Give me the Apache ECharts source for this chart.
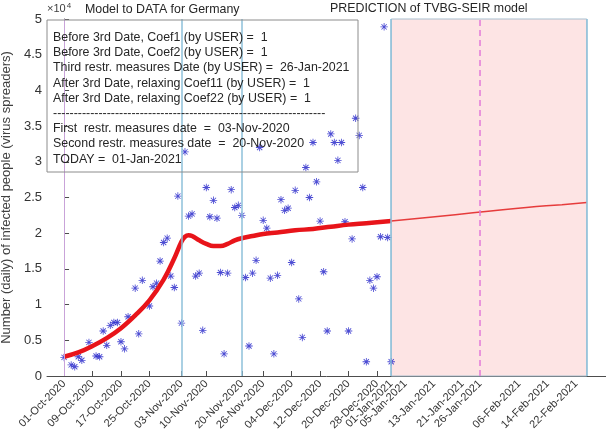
<!DOCTYPE html>
<html>
<head>
<meta charset="utf-8">
<script src="https://cdn.jsdelivr.net/npm/echarts@6/dist/echarts.min.js"></script>
<style>
  html, body { margin: 0; padding: 0; background: #fff; }
  #chart { width: 606px; height: 444px; }
</style>
</head>
<body>
<div id="chart"></div>
<script>
// days counted from 01-Oct-2020
const dataDays = [0, 2, 3, 4, 5, 7, 9, 10, 11, 12, 13, 14, 15, 16, 17, 18, 20, 21, 22, 24,
  25, 26, 27, 28, 29, 30, 31, 32, 33, 34, 35, 36, 37, 38, 39, 40, 41, 42, 43, 44,
  45, 46, 47, 48, 49, 50, 51, 52, 53, 54, 55, 56, 57, 58, 59, 60, 61, 62, 63, 64,
  65, 66, 67, 68, 69, 70, 71, 72, 73, 74, 75, 76, 77, 78, 79, 80, 81, 82, 83, 84,
  85, 86, 87, 88, 89, 90, 91, 92];
const dataCases = [2600, 1550, 1300, 2700, 2200, 4700, 2800, 2700, 6300, 4300, 7100, 7500, 7500, 4800, 3800, 8300, 12300, 5900, 13400, 9800,
  12500, 13000, 16100, 18700, 19300, 14000, 12400, 25200, 7400, 31400, 22400, 22700, 14000, 14400, 6400, 26400, 22300, 24600, 22100, 14500,
  3100, 14400, 26100, 23600, 23900, 22500, 13800, 4200, 14400, 16200, 32000, 21800, 20700, 13700, 3100, 14100, 24700, 23200, 23500, 15900,
  26000, 10800, 5400, 29200, 25000, 32700, 27200, 21700, 14600, 6300, 33900, 32700, 30200, 32700, 21600, 6300, 19200, 36100, 33700, 26400,
  2000, 13400, 12300, 13900, 19500, 48900, 19400, 2000];

const fitDays = [0, 4, 8, 12, 16, 20, 24, 28, 31, 33, 34, 35, 36, 38, 40, 42, 44, 46, 48, 50, 53, 56, 60, 65, 70, 75, 80, 85, 92];
const fitVals = [2700, 3300, 4200, 5300, 6700, 8500, 10600, 13500, 16500, 18800, 19500, 19700, 19600, 19000, 18500, 18200, 18200, 18500, 19000, 19300, 19600, 19900, 20100, 20400, 20600, 20900, 21200, 21400, 21700];

const predDays = [92, 100, 110, 120, 130, 140, 147];
const predVals = [21700, 22100, 22600, 23100, 23600, 24000, 24300];

const tickDays = [0, 8, 16, 24, 33, 40, 50, 56, 64, 72, 80, 88, 92, 96, 104, 112, 117, 128, 136, 144];
const tickLabels = ['01-Oct-2020', '09-Oct-2020', '17-Oct-2020', '25-Oct-2020', '03-Nov-2020', '10-Nov-2020',
  '20-Nov-2020', '26-Nov-2020', '04-Dec-2020', '12-Dec-2020', '20-Dec-2020', '28-Dec-2020', '01-Jan-2021',
  '05-Jan-2021', '13-Jan-2021', '21-Jan-2021', '26-Jan-2021', '06-Feb-2021', '14-Feb-2021', '22-Feb-2021'];

const infoLines = [
  'Before 3rd Date, Coef1 (by USER) =  1',
  'Before 3rd Date, Coef2 (by USER) =  1',
  'Third restr. measures Date (by USER) =  26-Jan-2021',
  'After 3rd Date, relaxing Coef11 (by USER) =  1',
  'After 3rd Date, relaxing Coef22 (by USER) =  1',
  '------------------------------------------------------------------',
  'First  restr. measures date  =  03-Nov-2020',
  'Second restr. measures date  =  20-Nov-2020',
  'TODAY =  01-Jan-2021'
];

const font = '"Liberation Sans", Arial, sans-serif';
const axisColor = '#4d4d4d';
const blueLine = '#8ec0da';

// asterisk marker made from 4 thin bars
const star = 'path://M-0.55,-5 L0.55,-5 L0.55,5 L-0.55,5 Z M-5,-0.55 L5,-0.55 L5,0.55 L-5,0.55 Z ' +
  'M-3.1,-3.9 L3.9,3.1 L3.1,3.9 L-3.9,-3.1 Z M-3.9,3.1 L3.1,-3.9 L3.9,-3.1 L-3.1,3.9 Z';

const labelOf = {};
tickDays.forEach((d, i) => { labelOf[d] = tickLabels[i]; });

const chart = echarts.init(document.getElementById('chart'));

const option = {
  animation: false,
  backgroundColor: '#fff',
  textStyle: { fontFamily: font },
  grid: { left: 47, right: 0, top: 19, bottom: 68, containLabel: false, outerBoundsMode: 'none' },
  xAxis: {
    type: 'value',
    min: -4.8,
    max: 152.4,
    splitLine: { show: false },
    axisLine: { lineStyle: { color: axisColor } },
    axisTick: { inside: true, length: 5, customValues: tickDays, lineStyle: { color: axisColor } },
    axisLabel: {
      customValues: tickDays,
      rotate: 45,
      fontSize: 11,
      color: '#333',
      margin: 6,
      formatter: v => labelOf[Math.round(v)] || ''
    }
  },
  yAxis: {
    type: 'value',
    min: 0,
    max: 50000,
    interval: 5000,
    name: 'Number (daily) of infected people (virus spreaders)',
    nameLocation: 'middle',
    nameGap: 25,
    nameTextStyle: { fontSize: 13, color: '#404040', fontFamily: font },
    splitLine: { show: false },
    axisLine: { show: true, lineStyle: { color: axisColor } },
    axisTick: { inside: true, length: 5, lineStyle: { color: axisColor } },
    axisLabel: {
      fontSize: 13,
      color: '#333',
      margin: 5,
      formatter: v => String(v / 10000)
    }
  },
  graphic: [
    {
      type: 'text', left: 47, top: 2,
      style: {
        text: '{a|×10}{b|4}',
        rich: {
          a: { fontSize: 11, fill: '#404040', fontFamily: font },
          b: { fontSize: 8, fill: '#404040', fontFamily: font, verticalAlign: 'top', padding: [0, 0, 6, 1] }
        }
      }
    },
    {
      type: 'text', left: 85, top: 4,
      style: { text: 'Model to DATA for Germany', fontSize: 12.4, fill: '#262626', fontFamily: font }
    },
    {
      type: 'text', left: 330, top: 3,
      style: { text: 'PREDICTION of TVBG-SEIR model', fontSize: 12.4, fill: '#262626', fontFamily: font }
    },
    {
      type: 'rect', z: 10,
      shape: { x: 47, y: 20, width: 311, height: 152 },
      style: { fill: null, stroke: '#8c8c8c', lineWidth: 1 }
    },
    {
      type: 'text', left: 53, top: 30, z: 10,
      style: { text: infoLines.join('\n'), fontSize: 12.4, lineHeight: 15.2, fill: '#262626', fontFamily: font }
    }
  ],
  series: [
    {
      name: 'Prediction',
      type: 'line',
      z: 1,
      data: predDays.map((d, i) => [d, predVals[i]]),
      smooth: true,
      showSymbol: false,
      lineStyle: { color: '#e63c3c', width: 1.5 },
      markArea: {
        silent: true,
        itemStyle: { color: '#fde4e4', borderColor: '#a8bfcf', borderWidth: 1 },
        data: [[{ xAxis: 92 }, { xAxis: 147 }]]
      },
      markLine: {
        silent: true,
        symbol: ['none', 'none'],
        label: { show: false },
        lineStyle: { color: blueLine, width: 1.5, type: 'solid' },
        data: [
          { xAxis: 0, lineStyle: { color: '#c9a3d9', width: 1, type: 'solid' } },
          { xAxis: 33 },
          { xAxis: 50 },
          { xAxis: 92 },
          { xAxis: 147 },
          { xAxis: 117, lineStyle: { color: '#e27ad8', width: 1.5, type: [6, 4] } }
        ]
      }
    },
    {
      name: 'Data',
      type: 'scatter',
      z: 2,
      data: dataDays.map((d, i) => [d, dataCases[i]]),
      symbol: star,
      symbolSize: 7.5,
      itemStyle: { color: '#1f1fc8' }
    },
    {
      name: 'Fit',
      type: 'line',
      z: 3,
      data: fitDays.map((d, i) => [d, fitVals[i]]),
      smooth: 0.4,
      showSymbol: false,
      lineStyle: { color: '#e8141a', width: 4.5 }
    }
  ]
};

chart.setOption(option);
</script>
</body>
</html>
